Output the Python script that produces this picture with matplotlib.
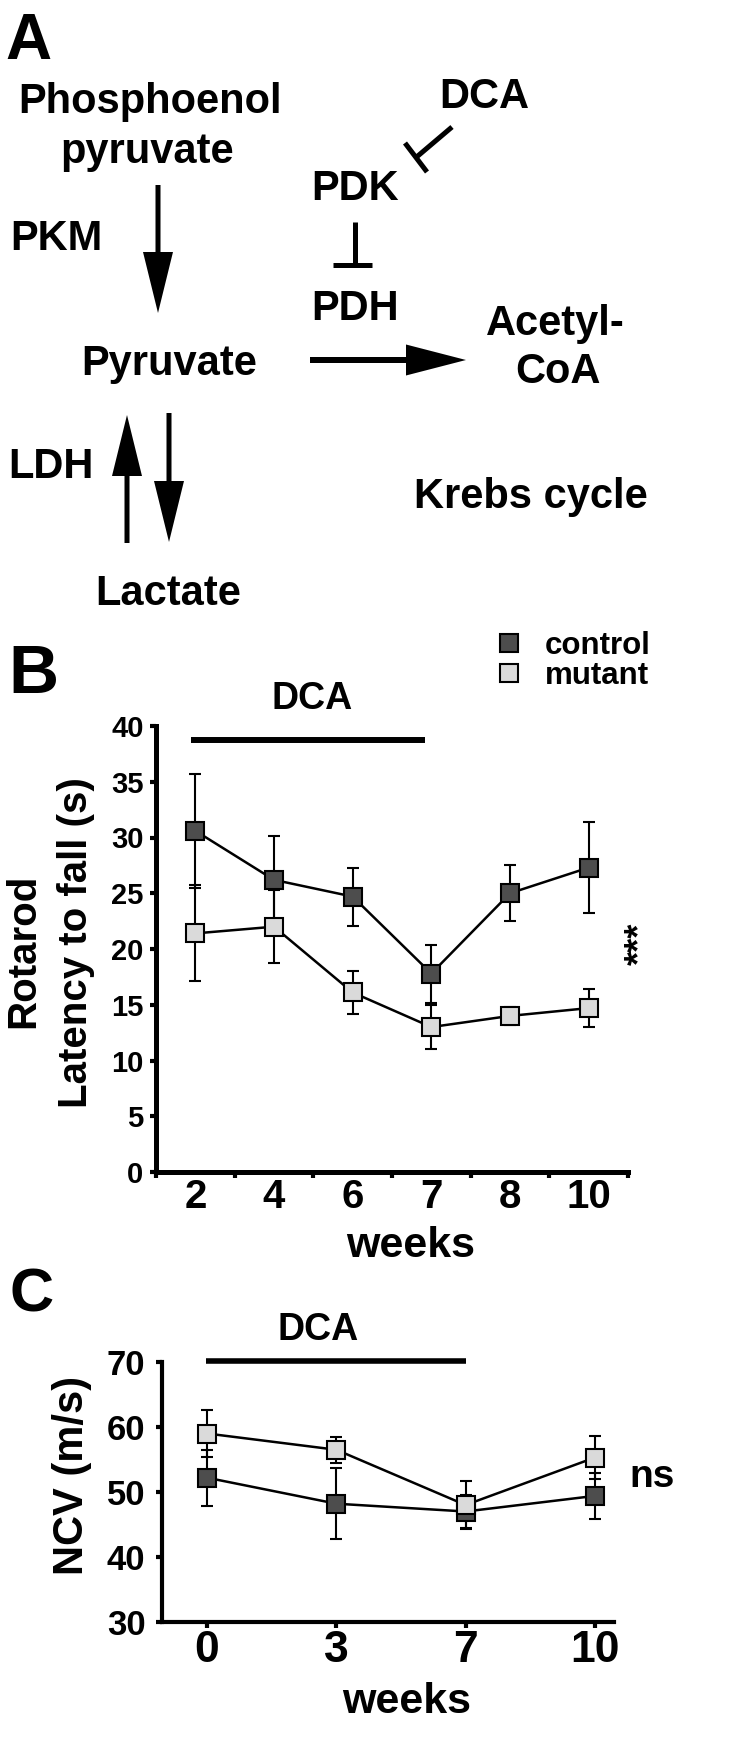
import numpy as np
import matplotlib
matplotlib.use("Agg")
import matplotlib.pyplot as plt
from matplotlib.patches import FancyArrow
from matplotlib.lines import Line2D

plt.rcParams['font.family'] = ['Liberation Sans', 'DejaVu Sans']
plt.rcParams['font.weight'] = 'bold'

# ---------------- data ----------------
weeks_b = ['2', '4', '6', '7', '8', '10']
control_b = [30.6, 26.2, 24.7, 17.8, 25.0, 27.3]
control_b_err = [5.1, 3.9, 2.6, 2.6, 2.5, 4.1]
mutant_b = [21.4, 22.0, 16.1, 13.0, 14.0, 14.7]
mutant_b_err = [4.3, 3.3, 1.9, 2.0, 0.8, 1.7]

weeks_c = ['0', '3', '7', '10']
control_c = [52.2, 48.2, 47.0, 49.4]
control_c_err = [4.3, 5.5, 2.5, 3.6]
mutant_c = [59.0, 56.5, 48.0, 55.3]
mutant_c_err = [3.6, 2.0, 3.7, 3.3]

series_names = ['control', 'mutant']
CTRL = '#4d4d4d'
MUT = '#dadada'

W, H = 751, 1739
fig = plt.figure(figsize=(W / 100, H / 100), dpi=100)


def rect(l, t, r, b):
    return [l / W, 1 - b / H, (r - l) / W, (b - t) / H]


def ftext(x, y, s, **kw):
    kw.setdefault('ha', 'left')
    kw.setdefault('va', 'baseline')
    fig.text(x / W, 1 - y / H, s, **kw)


# ---------------- panel A (diagram, pixel coordinates) ----------------
ax0 = fig.add_axes([0, 0, 1, 1])
ax0.set_xlim(0, W)
ax0.set_ylim(H, 0)
ax0.axis('off')
ax0.patch.set_visible(False)

FS_A = 30
ftext(5, 59, 'A', fontsize=46)
ftext(150, 113, 'Phosphoenol', fontsize=FS_A, ha='center')
ftext(147, 163, 'pyruvate', fontsize=FS_A, ha='center')
ftext(10, 250, 'PKM', fontsize=FS_A)
ftext(355, 200, 'PDK', fontsize=FS_A, ha='center')
ftext(355, 320, 'PDH', fontsize=FS_A, ha='center')
ftext(484, 108, 'DCA', fontsize=FS_A, ha='center')
ftext(169, 375, 'Pyruvate', fontsize=FS_A, ha='center')
ftext(555, 335, 'Acetyl-', fontsize=FS_A, ha='center')
ftext(558, 383, 'CoA', fontsize=FS_A, ha='center')
ftext(8, 478, 'LDH', fontsize=FS_A)
ftext(531, 508, 'Krebs cycle', fontsize=FS_A, ha='center')
ftext(168, 605, 'Lactate', fontsize=FS_A, ha='center')


def arrow(x0, y0, x1, y1, w=5, hw=30, hl=61):
    ax0.add_patch(FancyArrow(x0, y0, x1 - x0, y1 - y0, width=w, head_width=hw,
                             head_length=hl, length_includes_head=True,
                             color='black', lw=0))


arrow(158, 185, 158, 313)                       # PEP -> pyruvate
arrow(310, 360, 466, 360, w=6, hw=31, hl=60)    # pyruvate -> acetyl-CoA
arrow(127, 543, 127, 415)                       # lactate -> pyruvate
arrow(169, 413, 169, 542)                       # pyruvate -> lactate

lwA = 3.6
ax0.plot([355, 355], [222, 265], color='black', lw=lwA, solid_capstyle='butt')
ax0.plot([333, 372], [265, 265], color='black', lw=lwA, solid_capstyle='butt')
ax0.plot([452, 416], [127, 157.5], color='black', lw=lwA, solid_capstyle='butt')
ax0.plot([405, 427], [143, 172], color='black', lw=lwA, solid_capstyle='butt')


def style_axes(ax, spine_lw):
    for s in ['top', 'right']:
        ax.spines[s].set_visible(False)
    for s in ['left', 'bottom']:
        ax.spines[s].set_linewidth(spine_lw)
    ax.patch.set_visible(False)


def draw_series(ax, x, y, e, face):
    ax.errorbar(x, y, yerr=e, fmt='-s', color='black', mfc=face, mec='black',
                ms=13, mew=1.5, lw=1.8, elinewidth=1.5, capsize=4, capthick=1.5,
                zorder=3, clip_on=False)


# ---------------- panel B ----------------
axb = fig.add_axes(rect(156, 726, 628, 1172))
style_axes(axb, 3.6)
xb = np.arange(len(weeks_b))
draw_series(axb, xb, control_b, control_b_err, CTRL)
draw_series(axb, xb, mutant_b, mutant_b_err, MUT)
axb.set_xlim(-0.5, len(weeks_b) - 0.5)
axb.set_ylim(0, 40)
axb.set_yticks(np.arange(0, 41, 5))
axb.tick_params(axis='y', length=4, width=3, labelsize=21, pad=5)
axb.set_xticks(xb)
axb.set_xticklabels(weeks_b)
axb.set_xticks(np.arange(-0.5, len(weeks_b), 1), minor=True)
axb.tick_params(axis='x', which='major', length=0, labelsize=29, pad=4)
axb.tick_params(axis='x', which='minor', length=4, width=3, direction='out')
axb.plot([-0.05, 2.92], [38.7, 38.7], color='black', lw=4.3,
         solid_capstyle='butt', clip_on=False)
axb.text(5.66, 20.5, '***', rotation=90, ha='center', va='center', fontsize=26)

ftext(8, 693, 'B', fontsize=50)
ftext(312, 709, 'DCA', fontsize=27, ha='center')
ftext(411, 1257, 'weeks', fontsize=31, ha='center')
ftext(23, 951, 'Rotarod', fontsize=29, rotation=90, ha='center', va='center')
ftext(76, 943, 'Latency to fall (s)', fontsize=29, rotation=90,
      ha='center', va='center')

handles = [Line2D([], [], marker='s', ls='none', mfc=c, mec='black', ms=13, mew=1.5)
           for c in (CTRL, MUT)]
fig.legend(handles, series_names, loc='upper left',
           bbox_to_anchor=(496 / W, 1 - 631 / H), frameon=False, fontsize=22.5,
           handlelength=0.8, handletextpad=0.75, labelspacing=0.0,
           borderpad=0, borderaxespad=0)

# ---------------- panel C ----------------
axc = fig.add_axes(rect(162, 1362, 614, 1622))
style_axes(axc, 3.0)
xc = np.arange(len(weeks_c))
draw_series(axc, xc, control_c, control_c_err, CTRL)
draw_series(axc, xc, mutant_c, mutant_c_err, MUT)
axc.set_xlim(-0.348, 3.148)
axc.set_ylim(30, 70)
axc.set_yticks(np.arange(30, 71, 10))
axc.tick_params(axis='y', length=4, width=3, labelsize=25, pad=8)
axc.set_xticks(xc)
axc.set_xticklabels(weeks_c)
axc.tick_params(axis='x', length=4, width=3, labelsize=32, pad=2)
axc.plot([-0.01, 2.0], [70.2, 70.2], color='black', lw=4.0,
         solid_capstyle='butt', clip_on=False)
axc.text(3.44, 50.8, 'ns', ha='center', va='baseline', fontsize=28)

ftext(9, 1312, 'C', fontsize=44)
ftext(318, 1340, 'DCA', fontsize=27, ha='center')
ftext(407, 1713, 'weeks', fontsize=31, ha='center')
ftext(72, 1475, 'NCV (m/s)', fontsize=30, rotation=90, ha='center', va='center')

fig.savefig('out.png', dpi=100)
